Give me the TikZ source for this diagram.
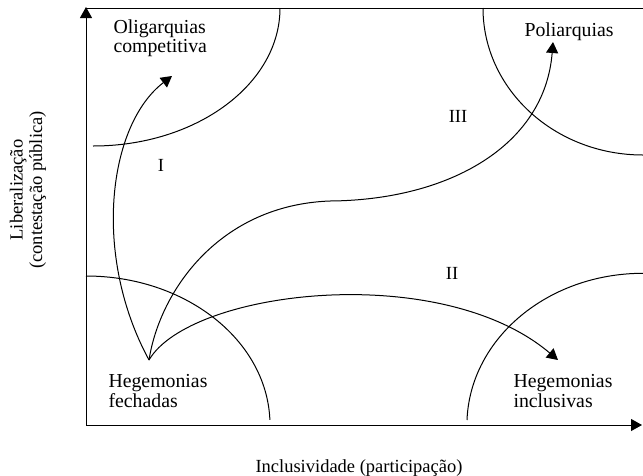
\documentclass[tikz,border=0pt]{standalone}
\usepackage{fontspec}
\setmainfont{Liberation Serif}
\usetikzlibrary{arrows.meta}
\begin{document}
\begin{tikzpicture}[x=1pt,y=-1pt,
  line width=1pt,
  tip/.style={-{Triangle[length=11pt,width=12pt]}},
  lbl/.style={inner sep=0pt, font=\fontsize{18.5}{19.5}\selectfont},
  region/.style={inner sep=0pt, font=\fontsize{19.8}{19.5}\selectfont},
  ]
\useasboundingbox (0,0) rectangle (643,475);
% axes and frame
\coordinate (O) at (86,425);
\coordinate (ytop) at (86,7);
\coordinate (tl) at (86,8);
\coordinate (xend) at (642,425);
\coordinate (tr) at (643,8);
\draw[tip] (O) -- (ytop);
\draw (tl) -- (tr);
\draw[tip] (O) -- (xend);
% region boundaries
\draw (93,146) arc[start angle=-90,end angle=0,x radius=187pt,y radius=138pt];
\draw (483,8) arc[start angle=180,end angle=270,x radius=160pt,y radius=147pt];
\draw (86,276) arc[start angle=90,end angle=2,x radius=184pt,y radius=149pt];
\draw (467,420) arc[start angle=178,end angle=90,x radius=176pt,y radius=152pt];
% paths
\coordinate (hf) at (149,360);
\coordinate (tI) at (172,76);
\coordinate (tII) at (558,360);
\coordinate (tIII) at (553,42);
\draw[tip] (hf) .. controls (92,255) and (108,125) .. (tI);
\draw[tip] (hf) .. controls (190,290) and (440,260) .. (tII);
\draw[tip] (hf) .. controls (160,290) and (220,205) .. (330,201)
  .. controls (450,200) and (545,145) .. (tIII);
% labels
\node[region,anchor=west,align=left] (olig) at (113,38) {Oligarquias\\competitiva};
\node[region,anchor=base west] (poli) at (524,36) {Poliarquias};
\node[region,anchor=west,align=left] (hegf) at (108,391) {Hegemonias\\fechadas};
\node[region,anchor=west,align=left] (hegi) at (513,391) {Hegemonias\\inclusivas};
\node[lbl] (rI) at (161,165) {I};
\node[lbl] (rII) at (452,273) {II};
\node[lbl] (rIII) at (458,116) {III};
\node[lbl,anchor=base] (xlab) at (359,472) {Inclusividade (participação)};
\node[lbl,rotate=90,align=center] (ylab) at (28,190) {Liberalização\\(contestação pública)};
\end{tikzpicture}
\end{document}
